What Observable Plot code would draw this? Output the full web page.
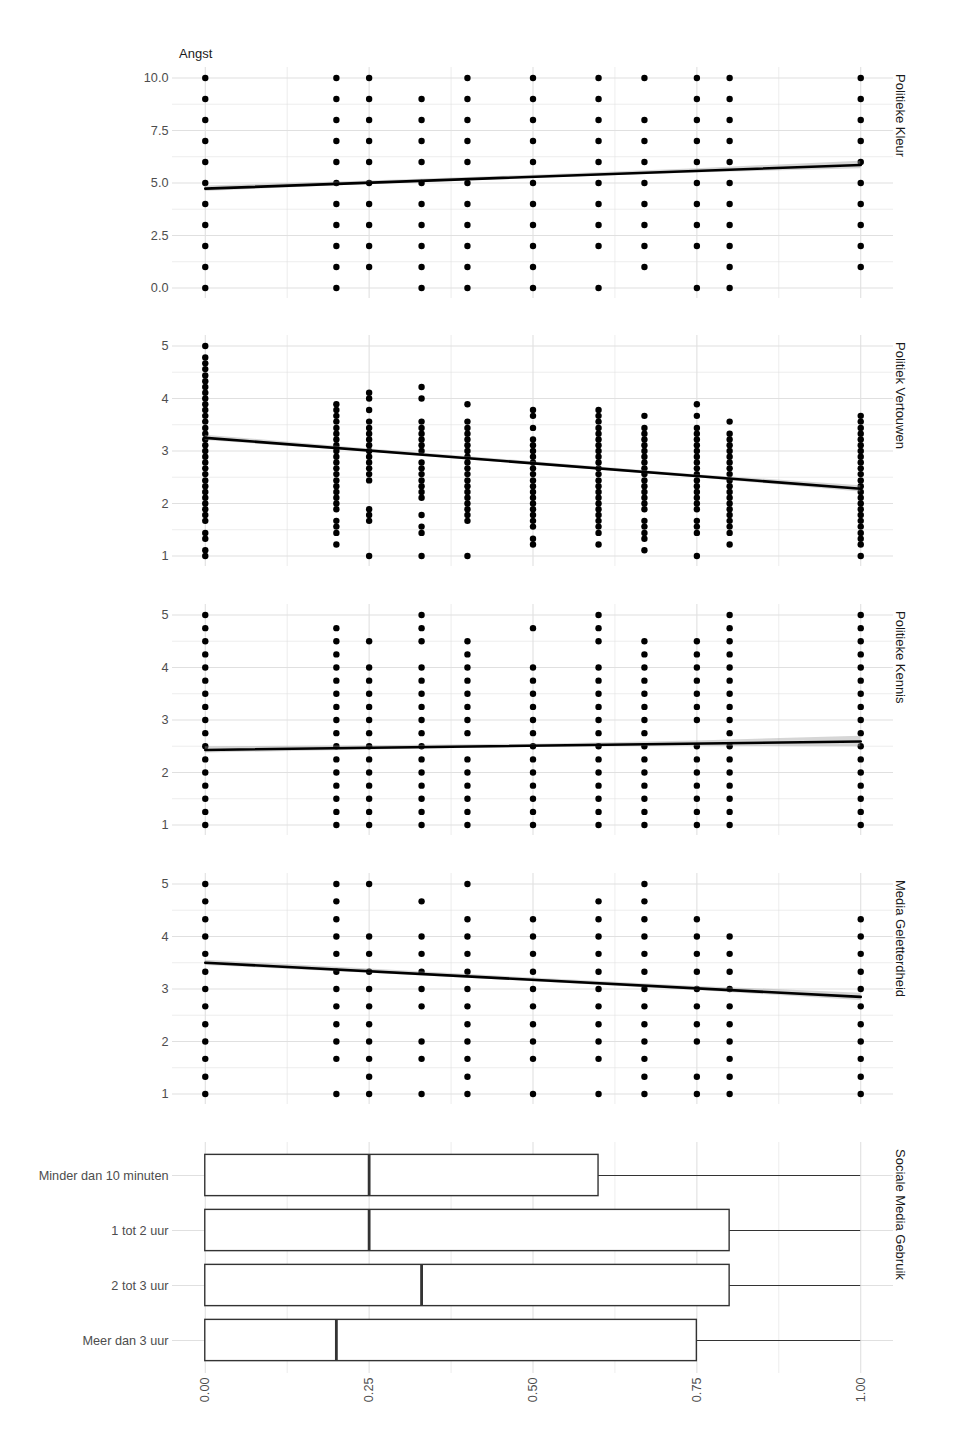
<!DOCTYPE html>
<html>
<head>
<meta charset="utf-8">
<script src="https://cdn.jsdelivr.net/npm/d3@7"></script>
<script src="https://cdn.jsdelivr.net/npm/@observablehq/plot@0.6"></script>
<style>
  html, body { margin: 0; padding: 0; background: #ffffff; }
  #chart { position: relative; width: 960px; height: 1440px; font-family: "Liberation Sans", Arial, Helvetica, sans-serif; }
  #chart svg { position: absolute; left: 0; overflow: visible; }
  .ytitle { position: absolute; left: 179px; top: 47px; font-size: 13px; line-height: 13px; color: #1a1a1a; }
</style>
</head>
<body>
<div id="chart"></div>
<script>
// ---------------- data ----------------
const yTitle = "Angst";
const xLevels = [0, 0.2, 0.25, 0.33, 0.4, 0.5, 0.6, 0.67, 0.75, 0.8, 1];
const xTicks = [0, 0.25, 0.5, 0.75, 1];
const xMinor = [0.125, 0.375, 0.625, 0.875];

// Panel 1: Politieke Kleur (one list of y values per x level)
const kleurLabel = "Politieke Kleur";
const kleurCols = [
  [10, 9, 8, 7, 6, 5, 4, 3, 2, 1, 0],
  [10, 9, 8, 7, 6, 5, 4, 3, 2, 1, 0],
  [10, 9, 8, 7, 6, 5, 4, 3, 2, 1],
  [9, 8, 7, 6, 5, 4, 3, 2, 1, 0],
  [10, 9, 8, 7, 6, 5, 4, 3, 2, 1, 0],
  [10, 9, 8, 7, 6, 5, 4, 3, 2, 1, 0],
  [10, 9, 8, 7, 6, 5, 4, 3, 2, 0],
  [10, 8, 7, 6, 5, 4, 3, 2, 1],
  [10, 9, 8, 7, 6, 5, 4, 3, 2, 0],
  [10, 9, 8, 7, 6, 5, 4, 3, 2, 1, 0],
  [10, 9, 8, 7, 6, 5, 4, 3, 2, 1]
];
const kleurTicks = [0, 2.5, 5, 7.5, 10];
const kleurMinor = [1.25, 3.75, 6.25, 8.75];
const kleurFitY = [4.73, 5.86];
const kleurBandLo = [4.60, 4.93, 5.23, 5.48, 5.68];
const kleurBandHi = [4.86, 5.09, 5.37, 5.68, 6.04];

// Panel 2: Politiek Vertouwen
const vertrouwenLabel = "Politiek Vertouwen";
const vertrouwenCols = [
  [5.00, 4.78, 4.67, 4.56, 4.44, 4.33, 4.22, 4.11, 4.00, 3.89, 3.78, 3.67, 3.56, 3.44, 3.33, 3.22, 3.11, 3.00, 2.89, 2.78, 2.67, 2.56, 2.44, 2.33, 2.22, 2.11, 2.00, 1.89, 1.78, 1.67, 1.44, 1.33, 1.11, 1.00],
  [3.89, 3.78, 3.67, 3.56, 3.44, 3.33, 3.22, 3.11, 3.00, 2.89, 2.78, 2.67, 2.56, 2.44, 2.33, 2.22, 2.11, 2.00, 1.89, 1.67, 1.56, 1.44, 1.22],
  [4.11, 4.00, 3.78, 3.56, 3.44, 3.33, 3.22, 3.11, 3.00, 2.89, 2.78, 2.67, 2.56, 2.44, 1.89, 1.78, 1.67, 1.00],
  [4.22, 4.00, 3.56, 3.44, 3.33, 3.22, 3.11, 3.00, 2.78, 2.67, 2.56, 2.44, 2.33, 2.22, 2.11, 1.78, 1.56, 1.44, 1.00],
  [3.89, 3.56, 3.44, 3.33, 3.22, 3.11, 3.00, 2.89, 2.78, 2.67, 2.56, 2.44, 2.33, 2.22, 2.11, 2.00, 1.89, 1.78, 1.67, 1.00],
  [3.78, 3.67, 3.44, 3.22, 3.11, 3.00, 2.89, 2.78, 2.67, 2.56, 2.44, 2.33, 2.22, 2.11, 2.00, 1.89, 1.78, 1.67, 1.56, 1.33, 1.22],
  [3.78, 3.67, 3.56, 3.44, 3.33, 3.22, 3.11, 3.00, 2.89, 2.78, 2.67, 2.56, 2.44, 2.33, 2.22, 2.11, 2.00, 1.89, 1.78, 1.67, 1.56, 1.44, 1.22],
  [3.67, 3.44, 3.33, 3.22, 3.11, 3.00, 2.89, 2.78, 2.67, 2.56, 2.44, 2.33, 2.22, 2.11, 2.00, 1.89, 1.67, 1.56, 1.44, 1.33, 1.11],
  [3.89, 3.67, 3.44, 3.33, 3.22, 3.11, 3.00, 2.89, 2.78, 2.67, 2.56, 2.44, 2.33, 2.22, 2.11, 2.00, 1.89, 1.67, 1.56, 1.44, 1.00],
  [3.56, 3.33, 3.22, 3.11, 3.00, 2.89, 2.78, 2.67, 2.56, 2.44, 2.33, 2.22, 2.11, 2.00, 1.89, 1.78, 1.67, 1.56, 1.44, 1.22],
  [3.67, 3.56, 3.44, 3.33, 3.22, 3.11, 3.00, 2.89, 2.78, 2.67, 2.56, 2.44, 2.33, 2.22, 2.11, 2.00, 1.89, 1.78, 1.67, 1.56, 1.44, 1.33, 1.22, 1.00]
];
const vertrouwenFitY = [3.25, 2.28];
const vertrouwenBandLo = [3.20, 2.98, 2.735, 2.49, 2.22];
const vertrouwenBandHi = [3.30, 3.04, 2.795, 2.55, 2.34];

// Panel 3: Politieke Kennis
const kennisLabel = "Politieke Kennis";
const kennisCols = [
  [5, 4.75, 4.5, 4.25, 4, 3.75, 3.5, 3.25, 3, 2.75, 2.5, 2.25, 2, 1.75, 1.5, 1.25, 1],
  [4.75, 4.5, 4.25, 4, 3.75, 3.5, 3.25, 3, 2.75, 2.5, 2.25, 2, 1.75, 1.5, 1.25, 1],
  [4.5, 4, 3.75, 3.5, 3.25, 3, 2.75, 2.5, 2.25, 2, 1.75, 1.5, 1.25, 1],
  [5, 4.75, 4.5, 4, 3.75, 3.5, 3.25, 3, 2.75, 2.5, 2.25, 2, 1.75, 1.5, 1.25, 1],
  [4.5, 4.25, 4, 3.75, 3.5, 3.25, 3, 2.75, 2.25, 2, 1.75, 1.5, 1.25, 1],
  [4.75, 4, 3.75, 3.5, 3.25, 3, 2.75, 2.5, 2.25, 2, 1.75, 1.5, 1.25, 1],
  [5, 4.75, 4.5, 4, 3.75, 3.5, 3.25, 3, 2.75, 2.5, 2.25, 2, 1.75, 1.5, 1.25, 1],
  [4.5, 4.25, 4, 3.75, 3.5, 3.25, 3, 2.75, 2.5, 2.25, 2, 1.75, 1.5, 1.25, 1],
  [4.5, 4.25, 4, 3.75, 3.5, 3.25, 3, 2.5, 2.25, 2, 1.75, 1.5, 1.25, 1],
  [5, 4.75, 4.5, 4.25, 4, 3.75, 3.5, 3.25, 3, 2.75, 2.5, 2.25, 2, 1.75, 1.5, 1.25, 1],
  [5, 4.75, 4.5, 4.25, 4, 3.75, 3.5, 3.25, 3, 2.75, 2.5, 2.25, 2, 1.75, 1.5, 1.25, 1]
];
const kennisFitY = [2.43, 2.59];
const kennisBandLo = [2.37, 2.43, 2.48, 2.50, 2.49];
const kennisBandHi = [2.49, 2.51, 2.54, 2.60, 2.69];

// Panel 4: Media Geletterdheid
const mediaLabel = "Media Geletterdheid";
const mediaCols = [
  [5, 4.67, 4.33, 4, 3.67, 3.33, 3, 2.67, 2.33, 2, 1.67, 1.33, 1],
  [5, 4.67, 4.33, 4, 3.67, 3.33, 3, 2.67, 2.33, 2, 1.67, 1],
  [5, 4, 3.67, 3.33, 3, 2.67, 2.33, 2, 1.67, 1.33, 1],
  [4.67, 4, 3.67, 3.33, 3, 2.67, 2, 1.67, 1],
  [5, 4.33, 4, 3.67, 3.33, 3, 2.67, 2.33, 2, 1.67, 1.33, 1],
  [4.33, 4, 3.67, 3.33, 3, 2.67, 2.33, 2, 1.67, 1],
  [4.67, 4.33, 4, 3.67, 3.33, 3, 2.67, 2.33, 2, 1.67, 1],
  [5, 4.67, 4.33, 4, 3.67, 3.33, 3, 2.67, 2.33, 2, 1.67, 1.33, 1],
  [4.33, 4, 3.67, 3.33, 3, 2.67, 2.33, 2, 1.33, 1],
  [4, 3.67, 3.33, 3, 2.67, 2.33, 2, 1.67, 1.33, 1],
  [4.33, 4, 3.67, 3.33, 3, 2.67, 2.33, 2, 1.67, 1.33, 1]
];
const mediaFitY = [3.50, 2.85];
const mediaBandLo = [3.45, 3.30, 3.14, 2.97, 2.78];
const mediaBandHi = [3.55, 3.38, 3.21, 3.05, 2.92];

const likertTicks = [1, 2, 3, 4, 5];
const likertMinor = [1.5, 2.5, 3.5, 4.5];
const fitX = [0, 1];
const bandX = [0, 0.25, 0.5, 0.75, 1];

// Panel 5: Sociale Media Gebruik (box plot)
const boxLabel = "Sociale Media Gebruik";
const boxCategories = ["Minder dan 10 minuten", "1 tot 2 uur", "2 tot 3 uur", "Meer dan 3 uur"];
const boxLow = [0, 0, 0, 0];
const boxQ1 = [0, 0, 0, 0];
const boxMedian = [0.25, 0.25, 0.33, 0.2];
const boxQ3 = [0.6, 0.8, 0.8, 0.75];
const boxHigh = [1, 1, 1, 1];

// ---------------- layout / style ----------------
const FONT = '"Liberation Sans", Arial, Helvetica, sans-serif';
const GRID = "#e0e0e0";
const TICK_COL = "#4d4d4d";
const STRIP_COL = "#1a1a1a";
const TICK_FS = 12.7;
const STRIP_FS = 13;
const PANEL_TOPS = [66.5, 335.25, 604, 872.75, 1141.5];
const PANEL_H = 231;
const PAD = 18;
const ML = 172, MR = 67;
const chart = document.getElementById("chart");

function place(svg, panelTop, mt) {
  svg.style.top = (panelTop - mt) + "px";
  chart.appendChild(svg);
}

function gridMarks(yTicks, yMinor) {
  const m = [
    Plot.ruleX(xMinor, {stroke: GRID, strokeWidth: 0.6}),
    Plot.ruleX(xTicks, {stroke: GRID, strokeWidth: 1.1})
  ];
  if (yMinor) m.unshift(Plot.ruleY(yMinor, {stroke: GRID, strokeWidth: 0.6}));
  if (yTicks) m.push(Plot.ruleY(yTicks, {stroke: GRID, strokeWidth: 1.1}));
  return m;
}

function stripText(label) {
  return Plot.text([label], {
    text: d => d, frameAnchor: "top-right", rotate: 90, textAnchor: "start",
    dx: 11.5, dy: 6.5, fontSize: STRIP_FS, fill: STRIP_COL
  });
}

function scatterPanel(i, label, cols, yDomain, yTicks, yMinor, fmt, fitY, bandLo, bandHi) {
  const pts = xLevels.flatMap((x, k) => cols[k].map(y => ({x, y})));
  const fit = fitX.map((x, k) => ({x, y: fitY[k]}));
  const band = bandX.map((x, k) => ({x, lo: bandLo[k], hi: bandHi[k]}));
  const svg = Plot.plot({
    width: 960, height: PANEL_H + 2 * PAD,
    marginLeft: ML, marginRight: MR, marginTop: PAD, marginBottom: PAD,
    style: {fontFamily: FONT, background: "transparent", overflow: "visible"},
    x: {domain: [-0.05, 1.05], axis: null},
    y: {domain: yDomain, label: null},
    marks: [
      ...gridMarks(yTicks, yMinor),
      Plot.axisY({ticks: yTicks, tickFormat: fmt, tickSize: 0, tickPadding: 4, fontSize: TICK_FS, color: TICK_COL, label: null}),
      Plot.dot(pts, {x: "x", y: "y", r: 3.2, fill: "#000000"}),
      Plot.areaY(band, {x: "x", y1: "lo", y2: "hi", fill: "#999999", fillOpacity: 0.4}),
      Plot.line(fit, {x: "x", y: "y", stroke: "#000000", strokeWidth: 2.6}),
      stripText(label)
    ]
  });
  place(svg, PANEL_TOPS[i], PAD);
}

scatterPanel(0, kleurLabel, kleurCols, [-0.5, 10.5], kleurTicks, kleurMinor, d3.format(".1f"), kleurFitY, kleurBandLo, kleurBandHi);
scatterPanel(1, vertrouwenLabel, vertrouwenCols, [0.8, 5.2], likertTicks, likertMinor, d3.format("d"), vertrouwenFitY, vertrouwenBandLo, vertrouwenBandHi);
scatterPanel(2, kennisLabel, kennisCols, [0.8, 5.2], likertTicks, likertMinor, d3.format("d"), kennisFitY, kennisBandLo, kennisBandHi);
scatterPanel(3, mediaLabel, mediaCols, [0.8, 5.2], likertTicks, likertMinor, d3.format("d"), mediaFitY, mediaBandLo, mediaBandHi);

// box panel
{
  const boxes = boxCategories.map((c, k) => ({c, lo: boxLow[k], q1: boxQ1[k], med: boxMedian[k], q3: boxQ3[k], hi: boxHigh[k]}));
  const MB = 70;
  const svg = Plot.plot({
    width: 960, height: PANEL_H + PAD + MB,
    marginLeft: ML, marginRight: MR, marginTop: PAD, marginBottom: MB,
    style: {fontFamily: FONT, background: "transparent", overflow: "visible"},
    x: {domain: [-0.05, 1.05], label: null},
    y: {type: "band", domain: boxCategories, paddingInner: 0.25, paddingOuter: 0.225, round: false, label: null},
    marks: [
      ...gridMarks(null, null),
      Plot.ruleY(boxCategories, {y: d => d, stroke: GRID, strokeWidth: 1.1}),
      Plot.ruleY(boxes, {y: "c", x1: "q3", x2: "hi", stroke: "#333333", strokeWidth: 1.2}),
      Plot.ruleY(boxes, {y: "c", x1: "lo", x2: "q1", stroke: "#333333", strokeWidth: 1.2}),
      Plot.barX(boxes, {y: "c", x1: "q1", x2: "q3", fill: "#ffffff", stroke: "#333333", strokeWidth: 1.4}),
      Plot.tickX(boxes, {y: "c", x: "med", stroke: "#333333", strokeWidth: 2.8}),
      Plot.axisY({tickSize: 0, tickPadding: 4, fontSize: TICK_FS, color: TICK_COL, label: null}),
      Plot.axisX({ticks: xTicks, tickFormat: d3.format(".2f"), tickRotate: -90, tickSize: 0, tickPadding: 4, fontSize: TICK_FS, color: TICK_COL, label: null}),
      stripText(boxLabel)
    ]
  });
  place(svg, PANEL_TOPS[4], PAD);
}

// y title
const t = document.createElement("div");
t.className = "ytitle";
t.textContent = yTitle;
chart.appendChild(t);
</script>
</body>
</html>
